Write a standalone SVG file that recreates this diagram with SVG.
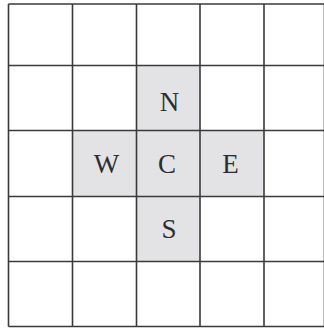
<svg xmlns="http://www.w3.org/2000/svg" width="324" height="329" viewBox="0 0 324 329">
<style>
.cell{fill:#e3e3e6}
.lbl{font-family:"Liberation Serif","DejaVu Serif",serif;font-size:27px;fill:#2e2e2e;text-anchor:middle}
.grid line{stroke:#3a3a3a;stroke-width:1.6}
</style>
<rect width="324" height="329" fill="#ffffff"/>
<g id="N"><rect class="cell" x="136.5" y="65.5" width="63.5" height="65"/><text class="lbl" x="169.5" y="110.5">N</text></g>
<g id="W"><rect class="cell" x="72.5" y="130.5" width="64" height="66"/><text class="lbl" x="106.5" y="173">W</text></g>
<g id="C"><rect class="cell" x="136.5" y="130.5" width="63.5" height="66"/><text class="lbl" x="167" y="173">C</text></g>
<g id="E"><rect class="cell" x="200" y="130.5" width="64" height="66"/><text class="lbl" x="230.5" y="173">E</text></g>
<g id="S"><rect class="cell" x="136.5" y="196.5" width="63.5" height="65"/><text class="lbl" x="169" y="238">S</text></g>
<g id="grid" class="grid">
<line x1="8.5" y1="4" x2="8.5" y2="326.5"/>
<line x1="72.5" y1="4" x2="72.5" y2="326.5"/>
<line x1="136.5" y1="4" x2="136.5" y2="326.5"/>
<line x1="200" y1="4" x2="200" y2="326.5"/>
<line x1="264" y1="4" x2="264" y2="326.5"/>
<line x1="323.5" y1="4" x2="323.5" y2="326.5" style="stroke:#bbbbbb;stroke-width:1"/>
<line x1="8.5" y1="4" x2="324" y2="4"/>
<line x1="8.5" y1="65.5" x2="324" y2="65.5"/>
<line x1="8.5" y1="130.5" x2="324" y2="130.5"/>
<line x1="8.5" y1="196.5" x2="324" y2="196.5"/>
<line x1="8.5" y1="261.5" x2="324" y2="261.5"/>
<line x1="8.5" y1="326.5" x2="324" y2="326.5"/>
</g>
</svg>
